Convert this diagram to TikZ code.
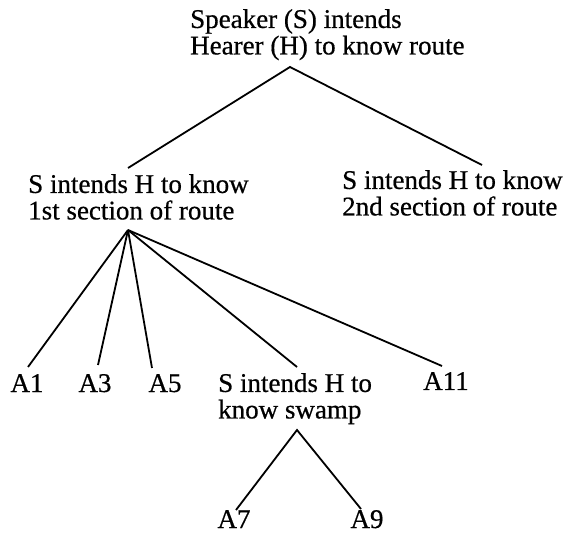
\documentclass[tikz,border=0pt]{standalone}
\usepackage{fontspec}
\setmainfont{Liberation Serif}
\newfontfamily\scanfont[FakeBold=0.6]{Liberation Serif}
\begin{document}
\begin{tikzpicture}[x=1pt,y=-1pt,
  txt/.style={inner sep=0pt,anchor=north west,align=left,font=\scanfont\fontsize{27}{26.5}\selectfont},
  lbl/.style={inner sep=0pt,anchor=base,font=\scanfont\fontsize{27}{26.5}\selectfont},
  edge/.style={line width=1.8pt}]
\useasboundingbox (0,0) rectangle (576,537);
% text nodes
\node[txt] (root) at (190,9) {Speaker (S) intends\\Hearer (H) to know route};
\node[txt] (left) at (28,174) {S intends H to know\\1st section of route};
\node[txt] (right) at (342,170) {S intends H to know\\2nd section of route};
\node[txt] (swamp) at (218,373) {S intends H to\\know swamp};
\node[lbl] (A1) at (27,392) {A1};
\node[lbl] (A3) at (95,392) {A3};
\node[lbl] (A5) at (165,392) {A5};
\node[lbl] (A11) at (446,390) {A11};
\node[lbl] (A7) at (234,528) {A7};
\node[lbl] (A9) at (367,528) {A9};
% connector points
\coordinate (rootapex) at (290,67);
\coordinate (lefttop) at (128,168);
\coordinate (righttop) at (482,165);
\coordinate (leftapex) at (128,230);
\coordinate (A1top) at (28,367);
\coordinate (A3top) at (98,365);
\coordinate (A5top) at (152,368);
\coordinate (swamptop) at (297,367);
\coordinate (A11top) at (442,366);
\coordinate (swampapex) at (297,430);
\coordinate (A7top) at (236,510);
\coordinate (A9top) at (361,509);
% connectors
\draw[edge] (lefttop) -- (rootapex) -- (righttop);
\foreach \t in {A1top,A3top,A5top,swamptop,A11top}
  \draw[edge] (leftapex) -- (\t);
\draw[edge] (A7top) -- (swampapex) -- (A9top);
\end{tikzpicture}
\end{document}
